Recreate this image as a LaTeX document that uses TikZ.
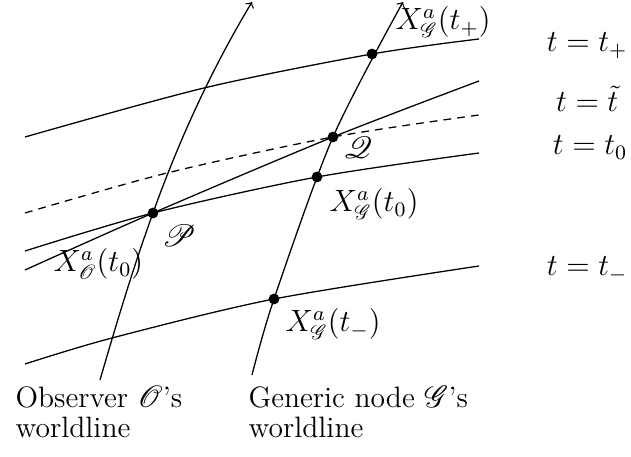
\documentclass[tikz,border=0pt]{standalone}
\usepackage{mathrsfs}
\begin{document}
\begin{tikzpicture}[x=0.39pt,y=-0.39pt,line width=0.5pt,
  font=\fontsize{11.5}{14}\selectfont,
  dot/.style={circle,fill,inner sep=0pt,minimum size=4.2pt},
  lbl/.style={inner sep=0pt,anchor=base west},
  rlbl/.style={inner sep=0pt,anchor=base east},
  slice/.style={line width=0.5pt},
  dashslice/.style={line width=0.5pt,dash pattern=on 3pt off 2.4pt}]
\useasboundingbox (0,0) rectangle (631,457);
% points
\node[dot] (P) at (153,213) {};
\node[dot] (Xm) at (274,299) {};
\node[dot] (X0) at (317,177) {};
\node[dot] (Q) at (333,137) {};
\node[dot] (Xp) at (372,54) {};
% worldline helper points
\coordinate (oB) at (100,380);
\coordinate (oM) at (204,88);
\coordinate (oT) at (252,2);
\coordinate (gB) at (252,375);
\coordinate (gT) at (403,2);
% slice end points
\coordinate (pL) at (25,137);  \coordinate (pR) at (479,39);
\coordinate (dL) at (25,213);  \coordinate (dM) at (167,173); \coordinate (dR) at (479,115);
\coordinate (zL) at (25,251);  \coordinate (zR) at (479,153);
\coordinate (gL) at (25,270);  \coordinate (gR) at (479,81);
\coordinate (mL) at (25,364);  \coordinate (mM) at (112,338); \coordinate (mR) at (479,266);
% worldlines
\draw[->] (oB) .. controls (116,325) and (133,268) .. (P.center)
               .. controls (178,143) and (210,72) .. (oT);
\draw[->] plot[smooth] coordinates {(gB) (Xm.center) (Q.center) (gT)};
% slices
\draw[slice] plot[smooth] coordinates {(pL) (oM) (Xp.center) (pR)};
\draw[dashslice] plot[smooth] coordinates {(dL) (dM) (Q.center) (dR)};
\draw[slice] plot[smooth] coordinates {(zL) (P.center) (X0.center) (zR)};
\draw[slice] plot[smooth] coordinates {(gL) (P.center) (Q.center) (gR)};
\draw[slice] plot[smooth] coordinates {(mL) (mM) (Xm.center) (mR)};
% labels
\node[lbl] (lXp) at (395,30) {$X^a_{\mathscr{G}}(t_+)$};
\node[lbl] (lX0) at (329,212) {$X^a_{\mathscr{G}}(t_0)$};
\node[lbl] (lXm) at (285,332) {$X^a_{\mathscr{G}}(t_-)$};
\node[lbl] (lXO) at (53,272) {$X^a_{\mathscr{O}}(t_0)$};
\node[inner sep=0pt] (lP) at (179,236) {$\mathscr{P}$};
\node[inner sep=0pt] (lQ) at (358,148) {$\mathscr{Q}$};
\node[rlbl] (tp) at (628,52) {$t = t_+$};
\node[rlbl] (tt) at (619,112) {$t = \tilde{t}$};
\node[rlbl] (t0) at (628,155) {$t = t_0$};
\node[rlbl] (tm) at (628,276) {$t = t_-$};
\node[lbl] (obs1) at (15,408) {Observer $\mathscr{O}$'s};
\node[lbl] (obs2) at (15,438) {worldline};
\node[lbl] (gen1) at (248,408) {Generic node $\mathscr{G}$'s};
\node[lbl] (gen2) at (248,438) {worldline};
\end{tikzpicture}
\end{document}
